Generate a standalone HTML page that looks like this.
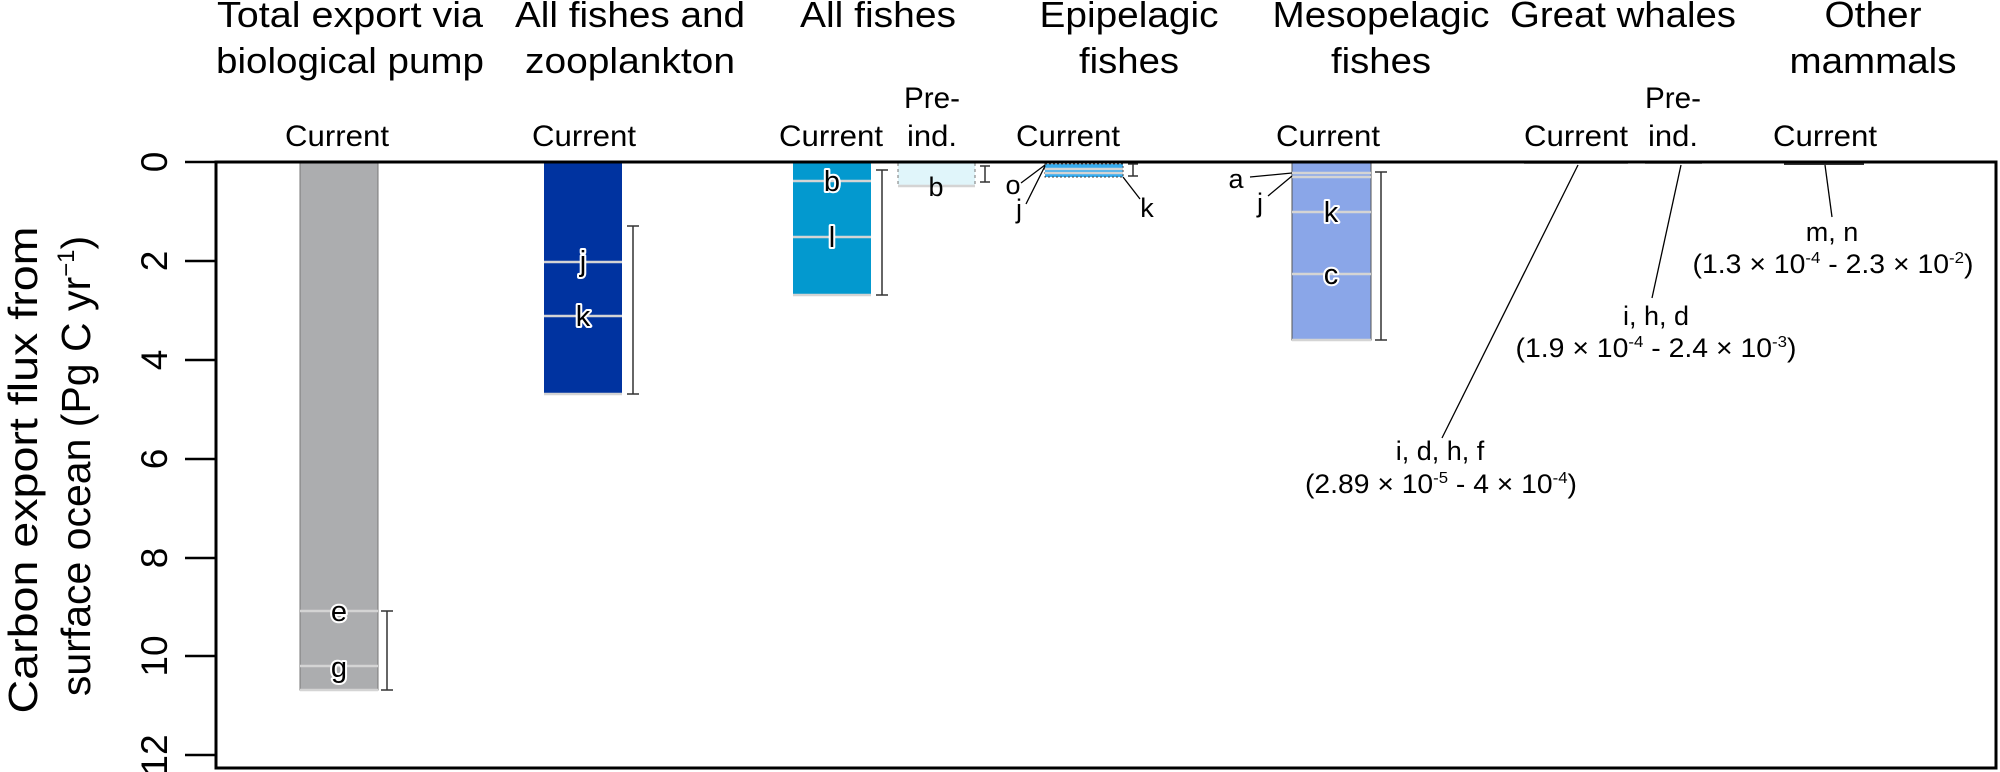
<!DOCTYPE html>
<html><head><meta charset="utf-8"><style>
html,body{margin:0;padding:0;background:#fff;}
svg{display:block;}
text{font-family:"Liberation Sans",Arial,sans-serif;fill:#000;}
.t{font-size:36px;text-anchor:middle;}
.c{font-size:30px;text-anchor:middle;}
.a{font-size:27px;text-anchor:middle;}
.l{font-size:29px;text-anchor:middle;stroke:#fff;stroke-width:4px;paint-order:stroke;stroke-linejoin:round;}
.sup{font-size:17px;}
</style></head><body>
<svg width="2000" height="772" viewBox="0 0 2000 772" xmlns="http://www.w3.org/2000/svg">
<!-- titles -->
<text class="t" x="350" y="27" textLength="266" lengthAdjust="spacingAndGlyphs">Total export via</text>
<text class="t" x="350" y="73" textLength="268" lengthAdjust="spacingAndGlyphs">biological pump</text>
<text class="t" x="630" y="27" textLength="230" lengthAdjust="spacingAndGlyphs">All fishes and</text>
<text class="t" x="630" y="73" textLength="210" lengthAdjust="spacingAndGlyphs">zooplankton</text>
<text class="t" x="878" y="27" textLength="156" lengthAdjust="spacingAndGlyphs">All fishes</text>
<text class="t" x="1129" y="27" textLength="179" lengthAdjust="spacingAndGlyphs">Epipelagic</text>
<text class="t" x="1129" y="73" textLength="100" lengthAdjust="spacingAndGlyphs">fishes</text>
<text class="t" x="1381" y="27" textLength="217" lengthAdjust="spacingAndGlyphs">Mesopelagic</text>
<text class="t" x="1381" y="73" textLength="100" lengthAdjust="spacingAndGlyphs">fishes</text>
<text class="t" x="1623" y="27" textLength="226" lengthAdjust="spacingAndGlyphs">Great whales</text>
<text class="t" x="1873" y="27" textLength="97" lengthAdjust="spacingAndGlyphs">Other</text>
<text class="t" x="1873" y="73" textLength="167" lengthAdjust="spacingAndGlyphs">mammals</text>
<!-- current labels -->
<text class="c" x="337" y="146" textLength="104" lengthAdjust="spacingAndGlyphs">Current</text>
<text class="c" x="584" y="146" textLength="104" lengthAdjust="spacingAndGlyphs">Current</text>
<text class="c" x="831" y="146" textLength="104" lengthAdjust="spacingAndGlyphs">Current</text>
<text class="c" x="932" y="108" textLength="56" lengthAdjust="spacingAndGlyphs">Pre-</text>
<text class="c" x="932" y="146" textLength="50" lengthAdjust="spacingAndGlyphs">ind.</text>
<text class="c" x="1068" y="146" textLength="104" lengthAdjust="spacingAndGlyphs">Current</text>
<text class="c" x="1328" y="146" textLength="104" lengthAdjust="spacingAndGlyphs">Current</text>
<text class="c" x="1576" y="146" textLength="104" lengthAdjust="spacingAndGlyphs">Current</text>
<text class="c" x="1673" y="108" textLength="56" lengthAdjust="spacingAndGlyphs">Pre-</text>
<text class="c" x="1673" y="146" textLength="50" lengthAdjust="spacingAndGlyphs">ind.</text>
<text class="c" x="1825" y="146" textLength="104" lengthAdjust="spacingAndGlyphs">Current</text>
<!-- y axis label -->
<text transform="translate(37,470) rotate(-90)" style="font-size:41px;text-anchor:middle" textLength="487" lengthAdjust="spacingAndGlyphs">Carbon export flux from</text>
<text transform="translate(90,466) rotate(-90)" style="font-size:41px;text-anchor:middle">surface ocean (Pg C yr<tspan dy="-16" style="font-size:24px">−1</tspan><tspan dy="16">)</tspan></text>
<!-- ticks -->
<g stroke="#000" stroke-width="2.5">
<line x1="185" y1="162" x2="216" y2="162"/><line x1="185" y1="261" x2="216" y2="261"/>
<line x1="185" y1="360" x2="216" y2="360"/><line x1="185" y1="459" x2="216" y2="459"/>
<line x1="185" y1="558" x2="216" y2="558"/><line x1="185" y1="656" x2="216" y2="656"/>
<line x1="185" y1="755" x2="216" y2="755"/>
</g>
<g style="font-size:37px;text-anchor:middle">
<text transform="translate(167,162) rotate(-90)">0</text>
<text transform="translate(167,261) rotate(-90)">2</text>
<text transform="translate(167,360) rotate(-90)">4</text>
<text transform="translate(167,459) rotate(-90)">6</text>
<text transform="translate(167,558) rotate(-90)">8</text>
<text transform="translate(167,656) rotate(-90)">10</text>
<text transform="translate(167,755) rotate(-90)">12</text>
</g>
<!-- bars -->
<rect x="300" y="162" width="78" height="528" fill="#acadaf" stroke="#777" stroke-width="1"/>
<rect x="544" y="162" width="78" height="232" fill="#0033a0"/>
<rect x="793" y="162" width="78" height="133" fill="#0399cf"/>
<rect x="898" y="162" width="77" height="24" fill="#e0f5fa" stroke="#777" stroke-width="1" stroke-dasharray="3,3"/>
<rect x="1045" y="164" width="78" height="13" fill="#38acee" stroke="#444" stroke-width="1" stroke-dasharray="2,2"/>
<rect x="1292" y="162" width="79" height="178" fill="#8aa6e8" stroke="#555" stroke-width="1"/>
<line x1="1524" y1="163" x2="1628" y2="163" stroke="#555" stroke-width="1.5"/>
<line x1="1645" y1="163" x2="1702" y2="163" stroke="#555" stroke-width="1.5"/>
<rect x="1784" y="162" width="80" height="3" fill="#333"/>
<!-- in-bar lines -->
<g stroke="#d4d4d4" stroke-width="2.5">
<line x1="300" y1="611" x2="378" y2="611"/><line x1="300" y1="666" x2="378" y2="666"/><line x1="300" y1="690" x2="378" y2="690"/>
<line x1="544" y1="262" x2="622" y2="262"/><line x1="544" y1="316" x2="622" y2="316"/><line x1="544" y1="394" x2="622" y2="394"/>
<line x1="793" y1="181" x2="871" y2="181"/><line x1="793" y1="237" x2="871" y2="237"/><line x1="793" y1="295" x2="871" y2="295"/>
<line x1="898" y1="186" x2="975" y2="186"/>
<line x1="1045" y1="169" x2="1123" y2="169"/><line x1="1045" y1="173" x2="1123" y2="173"/>
<line x1="1292" y1="173" x2="1371" y2="173"/><line x1="1292" y1="177" x2="1371" y2="177"/>
<line x1="1292" y1="212" x2="1371" y2="212"/><line x1="1292" y1="274" x2="1371" y2="274"/><line x1="1292" y1="340" x2="1371" y2="340"/>
</g>
<!-- error bars -->
<g stroke="#333" stroke-width="1.5">
<line x1="387" y1="611" x2="387" y2="690"/><line x1="381" y1="611" x2="393" y2="611"/><line x1="381" y1="690" x2="393" y2="690"/>
<line x1="633" y1="226" x2="633" y2="394"/><line x1="627" y1="226" x2="639" y2="226"/><line x1="627" y1="394" x2="639" y2="394"/>
<line x1="882" y1="170" x2="882" y2="295"/><line x1="876" y1="170" x2="888" y2="170"/><line x1="876" y1="295" x2="888" y2="295"/>
<line x1="985" y1="166" x2="985" y2="182"/><line x1="980" y1="166" x2="990" y2="166"/><line x1="980" y1="182" x2="990" y2="182"/>
<line x1="1133" y1="164" x2="1133" y2="176"/><line x1="1128" y1="164" x2="1138" y2="164"/><line x1="1128" y1="176" x2="1138" y2="176"/>
<line x1="1381" y1="172" x2="1381" y2="340"/><line x1="1375" y1="172" x2="1387" y2="172"/><line x1="1375" y1="340" x2="1387" y2="340"/>
</g>
<!-- leader lines -->
<g stroke="#000" stroke-width="1.3">
<line x1="1045" y1="165" x2="1021" y2="183"/><line x1="1045" y1="166" x2="1026" y2="204"/>
<line x1="1123" y1="177" x2="1140" y2="199"/>
<line x1="1292" y1="173" x2="1250" y2="177"/><line x1="1292" y1="176" x2="1268" y2="196"/>
<line x1="1578" y1="165" x2="1442" y2="438"/>
<line x1="1681" y1="165" x2="1652" y2="298"/>
<line x1="1825" y1="165" x2="1832" y2="217"/>
</g>
<!-- bar labels -->
<text class="l" x="339" y="621">e</text>
<text class="l" x="339" y="677">g</text>
<text class="l" x="583" y="271">j</text>
<text class="l" x="583" y="326">k</text>
<text class="l" x="832" y="191">b</text>
<text class="l" x="832" y="247">l</text>
<text class="a" x="936" y="196">b</text>
<text class="a" x="1013" y="194">o</text>
<text class="a" x="1019" y="218">j</text>
<text class="a" x="1147" y="217">k</text>
<text class="a" x="1236" y="188">a</text>
<text class="a" x="1260" y="212">j</text>
<text class="l" x="1331" y="222">k</text>
<text class="l" x="1331" y="284">c</text>
<!-- annotations -->
<text class="a" x="1440" y="460">i, d, h, f</text>
<text class="a" x="1441" y="493" textLength="272" lengthAdjust="spacingAndGlyphs">(2.89 × 10<tspan dy="-10" style="font-size:16px">-5</tspan><tspan dy="10"> - 4 × 10</tspan><tspan dy="-10" style="font-size:16px">-4</tspan><tspan dy="10">)</tspan></text>
<text class="a" x="1656" y="325">i, h, d</text>
<text class="a" x="1656" y="357" textLength="281" lengthAdjust="spacingAndGlyphs">(1.9 × 10<tspan dy="-10" style="font-size:16px">-4</tspan><tspan dy="10"> - 2.4 × 10</tspan><tspan dy="-10" style="font-size:16px">-3</tspan><tspan dy="10">)</tspan></text>
<text class="a" x="1832" y="241">m, n</text>
<text class="a" x="1833" y="273" textLength="281" lengthAdjust="spacingAndGlyphs">(1.3 × 10<tspan dy="-10" style="font-size:16px">-4</tspan><tspan dy="10"> - 2.3 × 10</tspan><tspan dy="-10" style="font-size:16px">-2</tspan><tspan dy="10">)</tspan></text>
<!-- frame -->
<rect x="216" y="162" width="1780" height="606" fill="none" stroke="#000" stroke-width="3"/>
</svg>
</body></html>
